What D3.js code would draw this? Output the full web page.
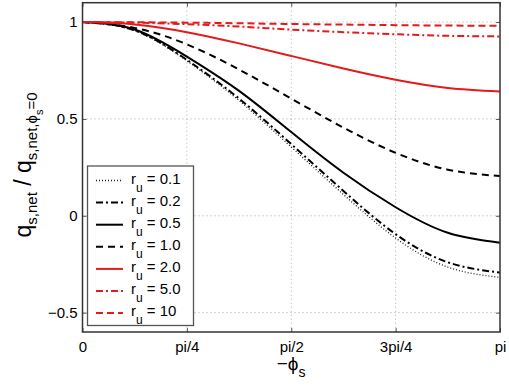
<!DOCTYPE html>
<html>
<head>
<meta charset="utf-8">
<script src="https://cdn.jsdelivr.net/npm/d3@7"></script>
<style>
html,body{margin:0;padding:0;background:#fff;}
svg{display:block;font-family:"Liberation Sans",Arial,Helvetica,sans-serif;}
</style>
</head>
<body>
<svg id="chart" width="509" height="385"></svg>
<script>
// x samples as fractions of pi
const phiFrac = [0, 0.125, 0.25, 0.375, 0.5, 0.625, 0.75, 0.875, 1];
const xTickFrac = [0, 0.25, 0.5, 0.75, 1];
const xTickLabels = ["0", "pi/4", "pi/2", "3pi/4", "pi"];
const yTicks = [-0.5, 0, 0.5, 1];
const yTickLabels = ["\u22120.5", "0", "0.5", "1"];

const ruLabels = ["0.1", "0.2", "0.5", "1.0", "2.0", "5.0", "10"];
const r01 = [1, 0.955, 0.800, 0.595, 0.355, 0.110, -0.115, -0.265, -0.318];
const r02 = [1, 0.957, 0.805, 0.605, 0.370, 0.128, -0.095, -0.240, -0.293];
const r05 = [1, 0.962, 0.822, 0.645, 0.432, 0.222, 0.044, -0.088, -0.139];
const r10 = [1, 0.970, 0.885, 0.755, 0.605, 0.455, 0.325, 0.238, 0.205];
const r20 = [1, 0.988, 0.948, 0.890, 0.825, 0.760, 0.702, 0.660, 0.642];
const r50 = [1, 0.997, 0.989, 0.977, 0.961, 0.948, 0.937, 0.929, 0.926];
const r100 = [1, 0.999, 0.997, 0.994, 0.990, 0.987, 0.984, 0.982, 0.981];
const seriesValues = [r01, r02, r05, r10, r20, r50, r100];

const styles = [
  {color:"#222", width:1.3, dash:"1,2"},
  {color:"#000", width:2, dash:"7,3,2,3"},
  {color:"#000", width:2, dash:null},
  {color:"#000", width:2, dash:"7,5"},
  {color:"#e41a1c", width:2, dash:null},
  {color:"#e41a1c", width:2, dash:"7,3,2,3"},
  {color:"#e41a1c", width:2, dash:"7,4"}
];

const svg = d3.select("#chart");
const L = 82.5, R = 500, T = 2.7, B = 332;
const x = d3.scaleLinear().domain([0, Math.PI]).range([L, R]);
const y = d3.scaleLinear().domain([-0.6, 1.1]).range([B, T]);

// grid
const g = svg.append("g");
g.selectAll(".gx").data(xTickFrac.slice(1, -1)).enter().append("line")
  .attr("x1", d => x(d*Math.PI)).attr("x2", d => x(d*Math.PI))
  .attr("y1", T).attr("y2", B)
  .attr("stroke", "#aaa").attr("stroke-width", 1).attr("stroke-dasharray", "1,3");
g.selectAll(".gy").data(yTicks).enter().append("line")
  .attr("x1", L).attr("x2", R)
  .attr("y1", d => y(d)).attr("y2", d => y(d))
  .attr("stroke", "#aaa").attr("stroke-width", 1).attr("stroke-dasharray", "1,3");

// axes with inside ticks
const axB = d3.axisBottom(x).tickValues(xTickFrac.map(f => f*Math.PI))
  .tickFormat((d, i) => xTickLabels[i]).tickSizeInner(-4).tickSizeOuter(0).tickPadding(9);
const axL = d3.axisLeft(y).tickValues(yTicks)
  .tickFormat((d, i) => yTickLabels[i]).tickSizeInner(-4).tickSizeOuter(0).tickPadding(5);
const axT = d3.axisTop(x).tickValues(xTickFrac.map(f => f*Math.PI)).tickFormat("").tickSizeInner(-4).tickSizeOuter(0);
const axR = d3.axisRight(y).tickValues(yTicks).tickFormat("").tickSizeInner(-4).tickSizeOuter(0);

function styleAxis(sel){
  sel.selectAll("path").attr("stroke", "none");
  sel.selectAll("line").attr("stroke", "#555").attr("stroke-width", 1);
  sel.selectAll("text").attr("fill", "#000").style("font-size", "15px")
    .style("font-family", "'Liberation Sans',Arial,sans-serif");
}
svg.append("g").attr("transform", `translate(0,${B})`).call(axB).call(styleAxis);
svg.append("g").attr("transform", `translate(${L},0)`).call(axL).call(styleAxis);
svg.append("g").attr("transform", `translate(0,${T})`).call(axT).call(styleAxis);
svg.append("g").attr("transform", `translate(${R},0)`).call(axR).call(styleAxis);

// clip
svg.append("clipPath").attr("id", "clip").append("rect")
  .attr("x", L).attr("y", T).attr("width", R - L).attr("height", B - T);

const line = d3.line().x((d, i) => x(phiFrac[i]*Math.PI)).y(d => y(d)).curve(d3.curveNatural);
const lines = svg.append("g").attr("clip-path", "url(#clip)");
seriesValues.forEach((vals, i) => {
  const s = styles[i];
  lines.append("path").datum(vals).attr("d", line)
    .attr("fill", "none").attr("stroke", s.color).attr("stroke-width", s.width)
    .attr("stroke-dasharray", s.dash);
});

// box
svg.append("rect").attr("x", L).attr("y", T).attr("width", R - L).attr("height", B - T)
  .attr("fill", "none").attr("stroke", "#333").attr("stroke-width", 1.5);

// legend
const lg = svg.append("g");
lg.append("rect").attr("x", 87.5).attr("y", 166).attr("width", 106).attr("height", 159.5)
  .attr("fill", "#fff").attr("stroke", "#555").attr("stroke-width", 1.3);
ruLabels.forEach((lab, i) => {
  const cy = 180.5 + i*22.1;
  const s = styles[i];
  lg.append("line").attr("x1", 96).attr("x2", 123).attr("y1", cy).attr("y2", cy)
    .attr("stroke", s.color).attr("stroke-width", s.width).attr("stroke-dasharray", s.dash);
  const t = lg.append("text").attr("x", 131).attr("y", cy + 3).style("font-size", "15px");
  t.append("tspan").text("r");
  t.append("tspan").attr("dy", 8).style("font-size", "12px").text("u");
  t.append("tspan").attr("dy", -8).text(" = " + lab);
});

// x label
const xl = svg.append("text").attr("x", 291).attr("y", 370).attr("text-anchor", "middle")
  .style("font-size", "19px");
xl.append("tspan").text("\u2212\u03d5");
xl.append("tspan").attr("dy", 7).style("font-size", "14px").text("s");

// y label
const yl = svg.append("text").attr("transform", "translate(31,165) rotate(-90)")
  .attr("text-anchor", "middle").style("font-size", "23px");
yl.append("tspan").text("q");
yl.append("tspan").attr("dy", 6).style("font-size", "15px").text("s,net");
yl.append("tspan").attr("dy", -6).text(" / q");
yl.append("tspan").attr("dy", 6).style("font-size", "15px").text("s,net,\u03d5");
yl.append("tspan").attr("dy", 6).style("font-size", "11px").text("s");
yl.append("tspan").attr("dy", -6).style("font-size", "15px").text("=0");
</script>
</body>
</html>
